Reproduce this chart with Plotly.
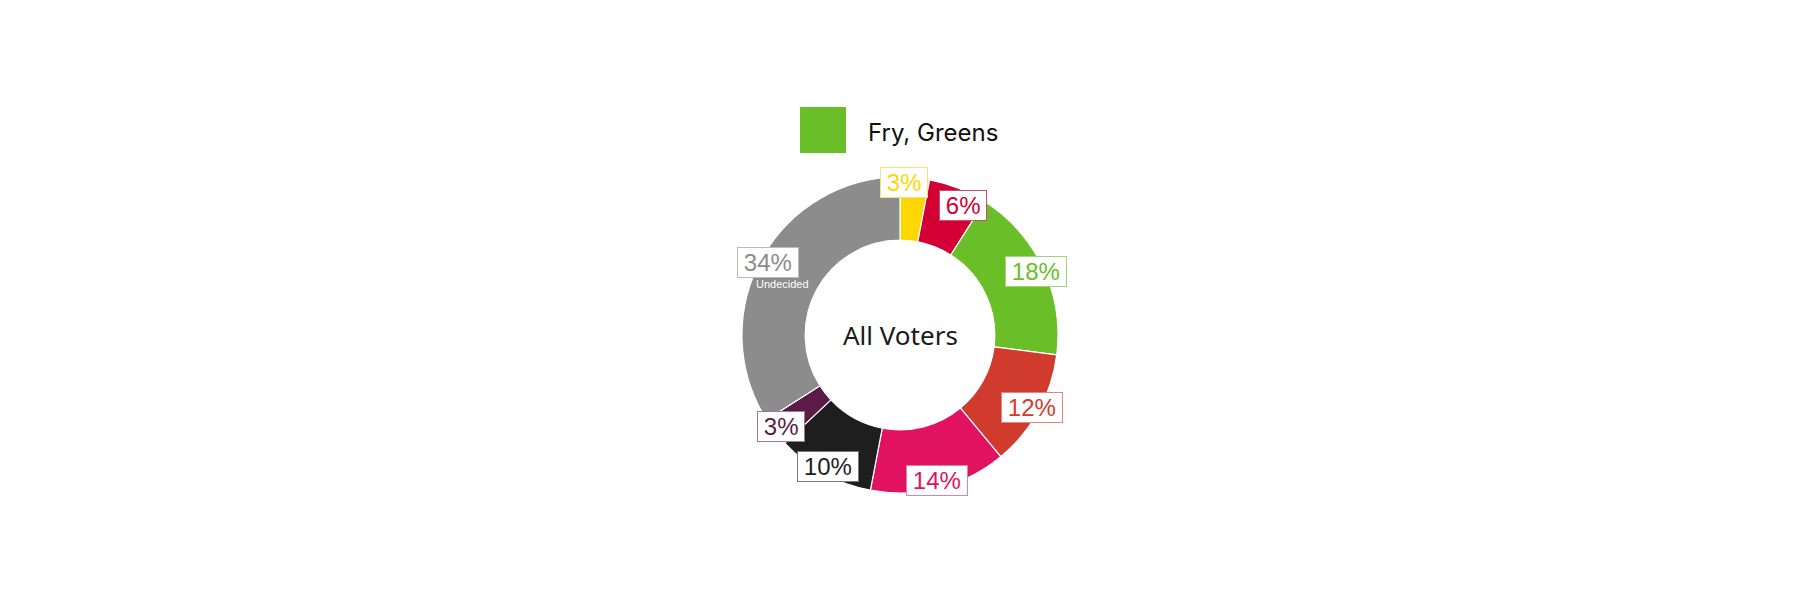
import math
import plotly.graph_objects as go

# slices, clockwise from 12 o'clock
parties = ["Yellow", "Red", "Fry, Greens", "Labour", "Pink", "Black", "Purple", "Undecided"]
shares = [3, 6, 18, 12, 14, 10, 3, 34]
colors = ["#FFD700", "#D20034", "#6ABE28", "#D13B2D", "#E11260", "#1E1E1E", "#5B1B46", "#8C8C8C"]
label_borders = ["#F5E27A", "#C9506E", "#9FD47F", "#D9897F", "#E77FA5", "#777777", "#9C7A90", "#BBBBBB"]

W, H = 1800, 600
OFF = 8  # page body margin
cx, cy, R = 900 - OFF, 335 - OFF, 158  # pixel centre / radius of the donut

# small nudges so the two narrow top labels don't collide
nudge = {"Yellow": (-10, 3), "Red": (8, -10)}

fig = go.Figure(go.Pie(
    labels=parties, values=shares, sort=False, direction="clockwise", rotation=0,
    hole=0.6, textinfo="none", hoverinfo="label+percent", showlegend=False,
    marker=dict(colors=colors, line=dict(color="white", width=1.2)),
    domain=dict(x=[(cx - R) / W, (cx + R) / W], y=[(H - cy - R) / H, (H - cy + R) / H]),
))

# percentage boxes at the outer edge of every slice
total = sum(shares)
acc = 0
for name, v, c, bc in zip(parties, shares, colors, label_borders):
    mid = (acc + v / 2) / total * 2 * math.pi
    acc += v
    r = R * 0.95
    px = cx + r * math.sin(mid)
    py = cy - r * math.cos(mid)
    dx, dy = nudge.get(name, (0, 0))
    fig.add_annotation(
        x=px / W, y=1 - py / H, xref="paper", yref="paper", showarrow=False,
        xanchor="center", yanchor="middle", xshift=dx, yshift=dy,
        text=f"\u2009{v}%\u2009", font=dict(family="Liberation Sans, Arial", size=24, color=c),
        bgcolor="white", bordercolor=bc, borderwidth=1, borderpad=1,
    )
    if name == "Undecided":
        fig.add_annotation(
            x=px / W, y=1 - py / H, xref="paper", yref="paper", showarrow=False,
            xanchor="center", yanchor="middle", xshift=14, yshift=-21, text="Undecided",
            font=dict(family="Liberation Sans, Arial", size=11, color="white"),
        )

# centre title
fig.add_annotation(x=cx / W, y=1 - cy / H, xref="paper", yref="paper", showarrow=False,
                   xanchor="center", yanchor="middle",
                   text="All Voters", font=dict(family="Noto Sans", size=26, color="#1a1a1a"))

# single legend entry
fig.add_shape(type="rect", xref="paper", yref="paper", x0=(800 - OFF) / W, x1=(846 - OFF) / W,
              y0=1 - (153 - OFF) / H, y1=1 - (107 - OFF) / H, fillcolor=colors[2], line=dict(width=0))
fig.add_annotation(x=(866 - OFF) / W, y=1 - (132 - OFF) / H, xref="paper", yref="paper",
                   showarrow=False, xanchor="left", yanchor="middle", text=parties[2],
                   font=dict(family="Inter", size=24, color="#111111"))

fig.update_layout(width=W, height=H, margin=dict(l=0, r=0, t=0, b=0),
                  paper_bgcolor="white", plot_bgcolor="white")
fig.write_html("out.html")
